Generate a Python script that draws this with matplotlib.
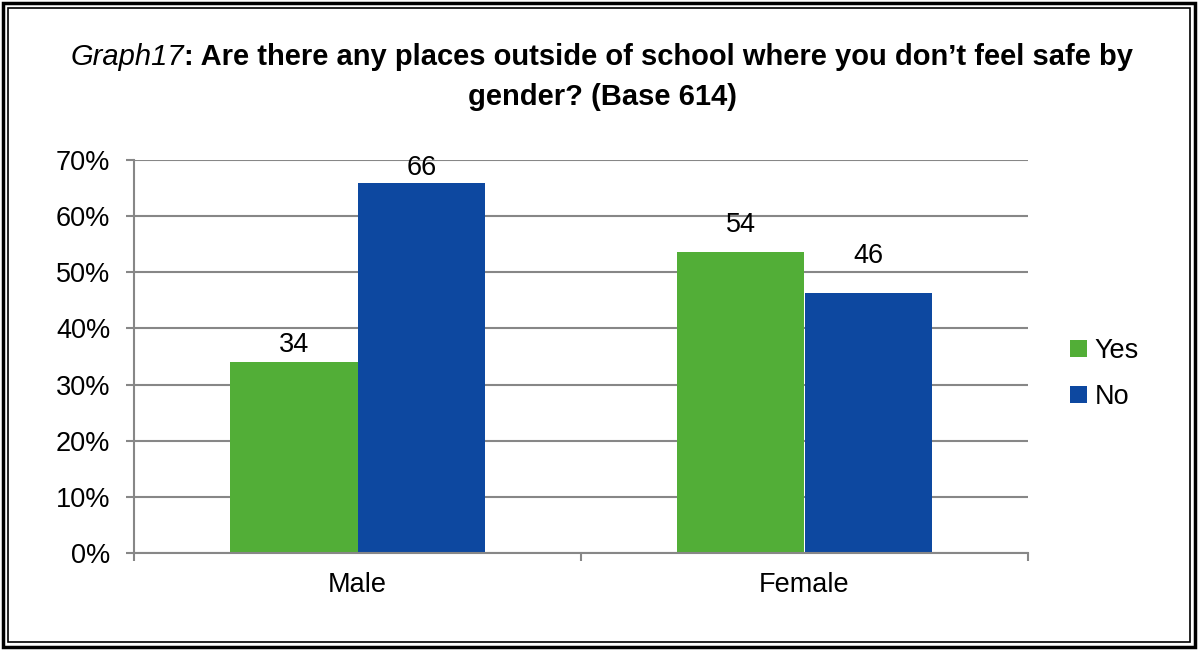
import numpy as np
import matplotlib.pyplot as plt
from matplotlib.patches import Rectangle

plt.rcParams['font.family'] = ['Liberation Sans', 'DejaVu Sans']

categories = ['Male', 'Female']
yes_vals = [34.1, 53.7]
no_vals = [65.9, 46.3]
yes_labels = ['34', '54']
no_labels = ['66', '46']
GREEN = '#52AE37'
BLUE = '#0D48A0'
GRID = '#878787'
FS = 19.5

W, H = 1198, 650
fig = plt.figure(figsize=(W / 100, H / 100), dpi=100)
ax = fig.add_axes([134 / W, 1 - 553 / H, (1028 - 134) / W, (553 - 160) / H])

x = np.arange(len(categories))
bw = 0.286
ax.bar(x - bw / 2, yes_vals, bw, color=GREEN, label='Yes')
ax.bar(x + bw / 2, no_vals, bw, color=BLUE, label='No')

# label gaps above bar tops (points), as Excel placed them
yes_off = [12, 19]
no_off = [11, 27]
for i in range(len(categories)):
    ax.annotate(yes_labels[i], (x[i] - bw / 2, yes_vals[i]), xytext=(0, yes_off[i]),
                textcoords='offset points', ha='center', va='center', fontsize=FS)
    ax.annotate(no_labels[i], (x[i] + bw / 2, no_vals[i]), xytext=(0, no_off[i]),
                textcoords='offset points', ha='center', va='center', fontsize=FS)

ax.set_xlim(-0.5, 1.5)
ax.set_ylim(0, 70)
ax.set_yticks(np.arange(0, 71, 10))
ax.set_yticklabels([f'{v}%' for v in range(0, 71, 10)], fontsize=FS)
ax.set_xticks(x)
ax.set_xticklabels(categories, fontsize=FS)
ax.set_xticks([-0.5, 0.5, 1.5], minor=True)
ax.tick_params(axis='x', which='major', length=0, pad=14)
ax.tick_params(axis='x', which='minor', length=6, width=1.5, color=GRID, direction='out')
ax.tick_params(axis='y', length=6, width=1.5, color=GRID, pad=11)
ax.yaxis.grid(True, color=GRID, linewidth=1.5)
ax.set_axisbelow(True)
for s in ['top', 'right']:
    ax.spines[s].set_visible(False)
for s in ['left', 'bottom']:
    ax.spines[s].set_color(GRID)
    ax.spines[s].set_linewidth(1.5)

fig.legend(loc='center left', bbox_to_anchor=(1046 / W, 1 - 374 / H), frameon=False,
           fontsize=FS, handlelength=0.6, handleheight=0.6, handletextpad=0.3, labelspacing=0.75)

# title: italic prefix + bold rest on first line
p1 = 'Graph17'
p2 = ': Are there any places outside of school where you don\u2019t feel safe by'
t1 = fig.text(0, 1 - 57 / H, p1, fontsize=21, style='italic', va='center')
t2 = fig.text(0, 1 - 57 / H, p2, fontsize=21, weight='bold', va='center')
fig.canvas.draw()
r = fig.canvas.get_renderer()
w1 = t1.get_window_extent(r).width
w2 = t2.get_window_extent(r).width
x0 = 602 - (w1 + w2) / 2
t1.set_x(x0 / W)
t2.set_x((x0 + w1) / W)
fig.text(602 / W, 1 - 97 / H, 'gender? (Base 614)', fontsize=21, weight='bold', ha='center', va='center')

# double border
fig.patches.append(Rectangle((3 / W, 3 / H), (W - 6) / W, (H - 6) / H, transform=fig.transFigure,
                             fill=False, edgecolor='black', linewidth=2.5))
fig.patches.append(Rectangle((8 / W, 8 / H), (W - 16) / W, (H - 16) / H, transform=fig.transFigure,
                             fill=False, edgecolor='black', linewidth=1.2))

fig.savefig('out.png', dpi=100)
